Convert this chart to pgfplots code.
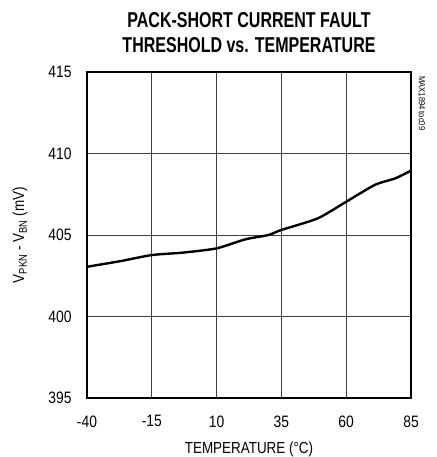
\documentclass[border=0pt]{standalone}
\usepackage{fontspec}
\setmainfont{Liberation Sans}[FakeStretch=0.84]
\newfontfamily\titlefont{Liberation Sans}[FakeStretch=0.745]
\usepackage{pgfplots}
\pgfplotsset{compat=1.18}

\begin{document}
\begin{tikzpicture}[x=1pt,y=1pt]
    \path[use as bounding box] (-87,-59) rectangle (349,398);
    \begin{axis}[
        at={(0,0)}, anchor=south west,
        scale only axis,
        width=324pt, height=326pt,
        xmin=-40, xmax=85,
        ymin=395, ymax=415,
        xtick={-40,-15,...,85},
        ytick={395,400,...,415},
        grid=major,
        grid style={line width=0.8pt, black!75},
        axis line style={line width=2.2pt},
        major tick length=0pt,
        tick label style={font=\fontsize{16.5}{16.5}\selectfont},
        /pgf/number format/assume math mode=true,
        xticklabel style={yshift=-14pt},
        yticklabel style={xshift=-12pt},
        xlabel={TEMPERATURE (°C)},
        ylabel={V\textsubscript{PKN} - V\textsubscript{BN} (mV)},
        label style={font=\fontsize{16}{16}\selectfont},
        xlabel style={yshift=-8pt},
        ylabel style={yshift=14pt},
        clip=false,
    ]
    \addplot[black, line width=2.4pt, smooth, tension=0.4] coordinates {
        (-40,403.05) (-27,403.40) (-15,403.77) (-3,403.92) (10,404.18)
        (21,404.73) (30,405.00) (35,405.31) (49,406.02) (60,407.04)
        (71,408.07) (79,408.48) (85,408.95)
    };
    \end{axis}
    \node[font=\titlefont\bfseries\fontsize{21.5}{25}\selectfont, align=center] at (162,365) {PACK-SHORT CURRENT FAULT\\THRESHOLD vs. TEMPERATURE};
    \node[font=\fontsize{9}{9}\selectfont, rotate=-90, anchor=west] at (335,325) {MAX1894 toc09};
\end{tikzpicture}
\end{document}
